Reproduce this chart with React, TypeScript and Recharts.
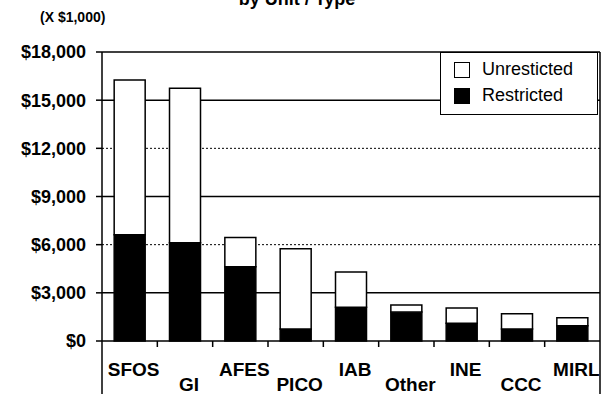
import { Bar, BarChart, CartesianGrid, XAxis, YAxis } from "recharts";

const categories = ["SFOS", "GI", "AFES", "PICO", "IAB", "Other", "INE", "CCC", "MIRL"];
const restricted = [6625, 6125, 4625, 750, 2100, 1800, 1100, 750, 950];
const unrestricted = [9625, 9625, 1825, 5000, 2200, 450, 950, 950, 500];
const yTicks = [0, 3000, 6000, 9000, 12000, 15000, 18000];
const solidLines = [3000, 9000, 15000, 18000];
const dottedLines = [6000, 12000];

const data = categories.map((name, i) => ({
  name,
  restricted: restricted[i],
  unrestricted: unrestricted[i],
}));

const font = '"Liberation Sans", Arial, sans-serif';

const formatMoney = (v: number) => "$" + v.toLocaleString("en-US");

function CategoryTick(props: any) {
  const { x, y, payload, index } = props;
  const half = payload && payload.offset ? payload.offset : 27.7;
  const low = index % 2 === 1;
  return (
    <g>
      {index > 0 && <line x1={x - half} y1={y} x2={x - half} y2={y + 6} stroke="#000" strokeWidth={1.5} />}
      {index === 0 && <line x1={x - half} y1={y} x2={x - half} y2={394} stroke="#000" strokeWidth={1.5} />}
      {index === categories.length - 1 && (
        <line x1={x + half} y1={y} x2={x + half} y2={394} stroke="#000" strokeWidth={1.5} />
      )}
      <text
        x={x + 4}
        y={y + (low ? 50 : 35)}
        textAnchor="middle"
        fontFamily={font}
        fontWeight="bold"
        fontSize={19}
        fill="#000"
      >
        {payload.value}
      </text>
    </g>
  );
}

export default function App() {
  return (
    <div
      style={{
        position: "absolute",
        left: 0,
        top: 0,
        width: 606,
        height: 394,
        overflow: "hidden",
        background: "#fff",
        fontFamily: font,
      }}
    >
      <div
        style={{
          position: "absolute",
          top: -11,
          left: 0,
          width: 594,
          textAlign: "center",
          fontSize: 18,
          fontWeight: "bold",
        }}
      >
        by Unit / Type
      </div>
      <div style={{ position: "absolute", top: 9, left: 40, fontSize: 14, fontWeight: "bold" }}>
        (X $1,000)
      </div>

      <BarChart
        width={606}
        height={394}
        data={data}
        margin={{ top: 52, right: 0, left: 0, bottom: 0 }}
        barCategoryGap="22%"
      >
        <CartesianGrid vertical={false} horizontalValues={solidLines} stroke="#000" strokeWidth={1.5} />
        <CartesianGrid
          vertical={false}
          horizontalValues={dottedLines}
          stroke="#000"
          strokeWidth={1}
          strokeDasharray="2 2"
        />
        <XAxis
          dataKey="name"
          height={53}
          interval={0}
          axisLine={{ stroke: "#000", strokeWidth: 1.5 }}
          tickLine={false}
          tickSize={0}
          tickMargin={0}
          tick={<CategoryTick />}
        />
        <YAxis
          width={102}
          domain={[0, 18000]}
          ticks={yTicks}
          interval={0}
          tickFormatter={formatMoney}
          axisLine={{ stroke: "#000", strokeWidth: 1.5 }}
          tickLine={{ stroke: "#000", strokeWidth: 1.5 }}
          tickSize={6}
          tickMargin={10}
          tick={{ fill: "#000", fontSize: 18, fontWeight: "bold", fontFamily: font }}
        />
        <YAxis
          yAxisId="right"
          orientation="right"
          width={6}
          domain={[0, 18000]}
          tick={false}
          tickLine={false}
          axisLine={{ stroke: "#000", strokeWidth: 1.5 }}
        />
        <Bar dataKey="restricted" stackId="a" fill="#000" stroke="#000" strokeWidth={1.5} isAnimationActive={false} />
        <Bar dataKey="unrestricted" stackId="a" fill="#fff" stroke="#000" strokeWidth={1.5} isAnimationActive={false} />
      </BarChart>

      <div
        style={{
          position: "absolute",
          left: 440,
          top: 52,
          width: 158,
          height: 63,
          background: "#fff",
          border: "1.5px solid #000",
          boxSizing: "border-box",
          fontSize: 18,
        }}
      >
        <div style={{ position: "absolute", left: 13, top: 6, display: "flex", alignItems: "center" }}>
          <span
            style={{
              display: "inline-block",
              width: 16,
              height: 16,
              border: "1.5px solid #000",
              background: "#fff",
              boxSizing: "border-box",
              marginRight: 12,
            }}
          />
          Unresticted
        </div>
        <div style={{ position: "absolute", left: 13, top: 32, display: "flex", alignItems: "center" }}>
          <span
            style={{
              display: "inline-block",
              width: 16,
              height: 16,
              background: "#000",
              marginRight: 12,
            }}
          />
          Restricted
        </div>
      </div>
    </div>
  );
}
